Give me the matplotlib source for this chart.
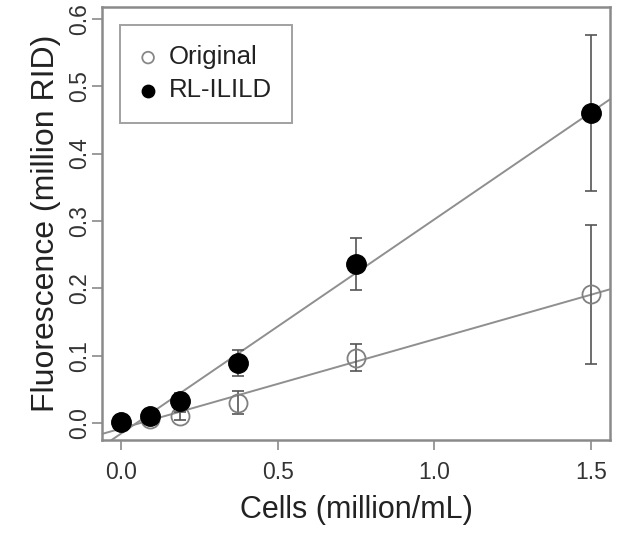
import numpy as np
import matplotlib
matplotlib.use("Agg")
import matplotlib.pyplot as plt

plt.rcParams['font.family'] = ['Liberation Sans', 'DejaVu Sans']

cells = [0.0, 0.09375, 0.1875, 0.375, 0.75, 1.5]
original = [0.001, 0.006, 0.010, 0.030, 0.097, 0.191]
original_err = [0.003, 0.004, 0.006, 0.017, 0.020, 0.103]
rlilild = [0.002, 0.010, 0.032, 0.089, 0.236, 0.460]
rlilild_err = [0.004, 0.006, 0.012, 0.020, 0.039, 0.116]

xticks = [0.0, 0.5, 1.0, 1.5]
yticks = [0.0, 0.1, 0.2, 0.3, 0.4, 0.5, 0.6]

fig = plt.figure(figsize=(6.3, 5.35), dpi=100)
ax = fig.add_axes([0.162, 0.178, 0.806, 0.808])

frame_col = '#8a8a8a'
line_col = '#8f8f8f'
err_col = '#555555'
txt_col = '#333333'

xlim = (-0.06, 1.56)
ylim = (-0.025, 0.617)

xs = np.array(xlim)
for yv in (original, rlilild):
    slope, icpt = np.polyfit(cells, yv, 1)
    ax.plot(xs, slope * xs + icpt, color=line_col, lw=1.4, zorder=1)

ax.errorbar(cells, original, yerr=original_err, fmt='none', ecolor=err_col,
            elinewidth=1.2, capsize=4, capthick=1.2, zorder=2)
ax.errorbar(cells, rlilild, yerr=rlilild_err, fmt='none', ecolor=err_col,
            elinewidth=1.2, capsize=4, capthick=1.2, zorder=2)
ax.plot(cells, original, 'o', ms=13, mfc='none', mec='#808080', mew=1.3, zorder=3)
ax.plot(cells, rlilild, 'o', ms=14, mfc='black', mec='black', zorder=4)

ax.set_xlim(*xlim)
ax.set_ylim(*ylim)
ax.set_xticks(xticks)
ax.set_xticklabels([f"{t:.1f}" for t in xticks])
ax.set_yticks(yticks)
ax.set_yticklabels([f"{t:.1f}" for t in yticks], rotation=90, va='center')

for s in ax.spines.values():
    s.set_color(frame_col)
    s.set_linewidth(1.8)
ax.tick_params(direction='out', length=7, width=1.2, color=frame_col,
               labelsize=16.5, labelcolor=txt_col)
ax.tick_params(axis='x', pad=8)
ax.tick_params(axis='y', pad=1)

ax.set_xlabel('Cells (million/mL)', fontsize=22, color='#222222', labelpad=8)
ax.set_ylabel('Fluorescence (million RID)', fontsize=23, color='#222222', labelpad=5)

h1 = ax.scatter([], [], s=70, facecolors='none', edgecolors='#888888', linewidths=1.3)
h2 = ax.scatter([], [], s=80, facecolors='black', edgecolors='black')
leg = ax.legend([h1, h2], ['Original', 'RL-ILILD'], loc='upper left',
                bbox_to_anchor=(0.035, 0.96), fontsize=18.5, frameon=True,
                fancybox=False, edgecolor=frame_col, borderpad=0.8,
                handletextpad=0.5, labelspacing=0.35, handlelength=0.6,
                borderaxespad=0)
leg.get_frame().set_linewidth(1.4)
for t in leg.get_texts():
    t.set_color('#222222')

fig.savefig('out.png', dpi=100)
